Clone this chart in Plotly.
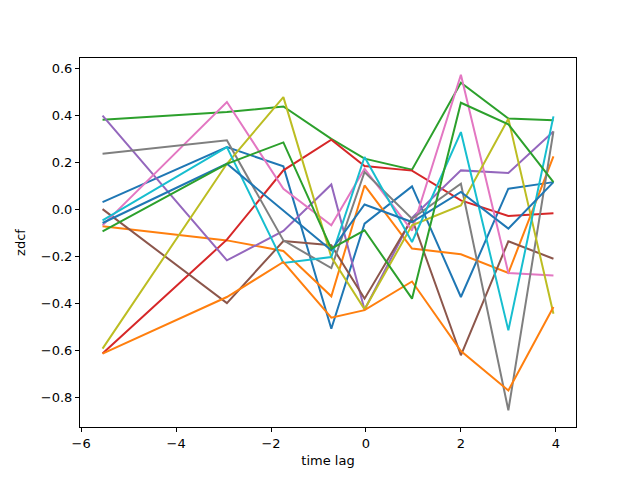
import plotly.graph_objects as go

lags = [-5.55, -2.93, -1.74, -0.73, -0.03, 0.97, 2.0, 3.0, 3.95]

s_blue1 = [0.031, 0.265, 0.183, -0.508, -0.061, 0.098, -0.373, 0.088, 0.116]
s_orange1 = [-0.072, -0.132, -0.177, -0.370, 0.102, -0.167, -0.191, -0.271, 0.226]
s_green1 = [0.382, 0.414, 0.438, 0.300, 0.216, 0.169, 0.539, 0.387, 0.379]
s_red = [-0.614, -0.129, 0.166, 0.297, 0.185, 0.165, 0.038, -0.028, -0.017]
s_purple = [0.399, -0.217, -0.092, 0.106, -0.427, -0.036, 0.166, 0.155, 0.332]
s_brown = [0.001, -0.399, -0.135, -0.153, -0.380, -0.040, -0.621, -0.136, -0.210]
s_pink = [-0.068, 0.457, 0.088, -0.068, 0.173, -0.090, 0.573, -0.271, -0.281]
s_gray = [0.237, 0.294, -0.132, -0.250, 0.159, -0.040, 0.109, -0.855, 0.332]
s_olive = [-0.593, 0.194, 0.478, -0.203, -0.425, -0.068, 0.017, 0.386, -0.444]
s_cyan = [-0.047, 0.265, -0.228, -0.203, 0.223, -0.139, 0.329, -0.515, 0.396]
s_blue2 = [-0.058, 0.194, None, -0.174, 0.021, -0.054, 0.074, -0.082, 0.116]
s_orange2 = [-0.614, -0.373, -0.224, -0.461, -0.429, -0.307, -0.603, -0.771, -0.416]
s_green2 = [-0.094, 0.194, 0.285, -0.167, -0.089, -0.380, 0.454, 0.362, 0.116]

series = [s_blue1, s_orange1, s_green1, s_red, s_purple, s_brown, s_pink,
          s_gray, s_olive, s_cyan, s_blue2, s_orange2, s_green2]
colors = ["#1f77b4", "#ff7f0e", "#2ca02c", "#d62728", "#9467bd", "#8c564b",
          "#e377c2", "#7f7f7f", "#bcbd22", "#17becf"]

x_ticks = [-6, -4, -2, 0, 2, 4]
y_ticks = [-0.8, -0.6, -0.4, -0.2, 0.0, 0.2, 0.4, 0.6]


def fmt(v, dec):
    s = f"{abs(v):.{dec}f}"
    return ("\u2212" + s) if v < 0 else s


fig = go.Figure()
for i, ys in enumerate(series):
    fig.add_trace(go.Scatter(x=lags, y=ys, mode="lines", connectgaps=True,
                             line=dict(color=colors[i % 10], width=2),
                             showlegend=False, hoverinfo="skip"))

allx = lags
ally = [v for s in series for v in s if v is not None]
xmin, xmax = min(allx), max(allx)
ymin, ymax = min(ally), max(ally)
dx = (xmax - xmin) * 0.05
dy = (ymax - ymin) * 0.05

axis_common = dict(showline=True, linecolor="black", linewidth=1, mirror=True,
                   ticks="outside", ticklen=4, tickwidth=1, tickcolor="black",
                   showgrid=False, zeroline=False,
                   tickfont=dict(family="DejaVu Sans", size=13, color="black"))

fig.update_layout(
    width=640, height=480,
    margin=dict(l=80, r=64, t=58, b=53),
    paper_bgcolor="white", plot_bgcolor="white",
    font=dict(family="DejaVu Sans", size=13, color="black"),
    xaxis=dict(range=[xmin - dx, xmax + dx], tickvals=x_ticks,
               ticktext=[fmt(v, 0) for v in x_ticks],
               title=dict(text="time lag", standoff=6,
                          font=dict(family="DejaVu Sans", size=13)),
               **axis_common),
    yaxis=dict(range=[ymin - dy, ymax + dy], tickvals=y_ticks,
               ticktext=[fmt(v, 1) for v in y_ticks],
               title=dict(text="zdcf", standoff=12,
                          font=dict(family="DejaVu Sans", size=13)),
               **axis_common),
)

fig.write_html("out.html")
